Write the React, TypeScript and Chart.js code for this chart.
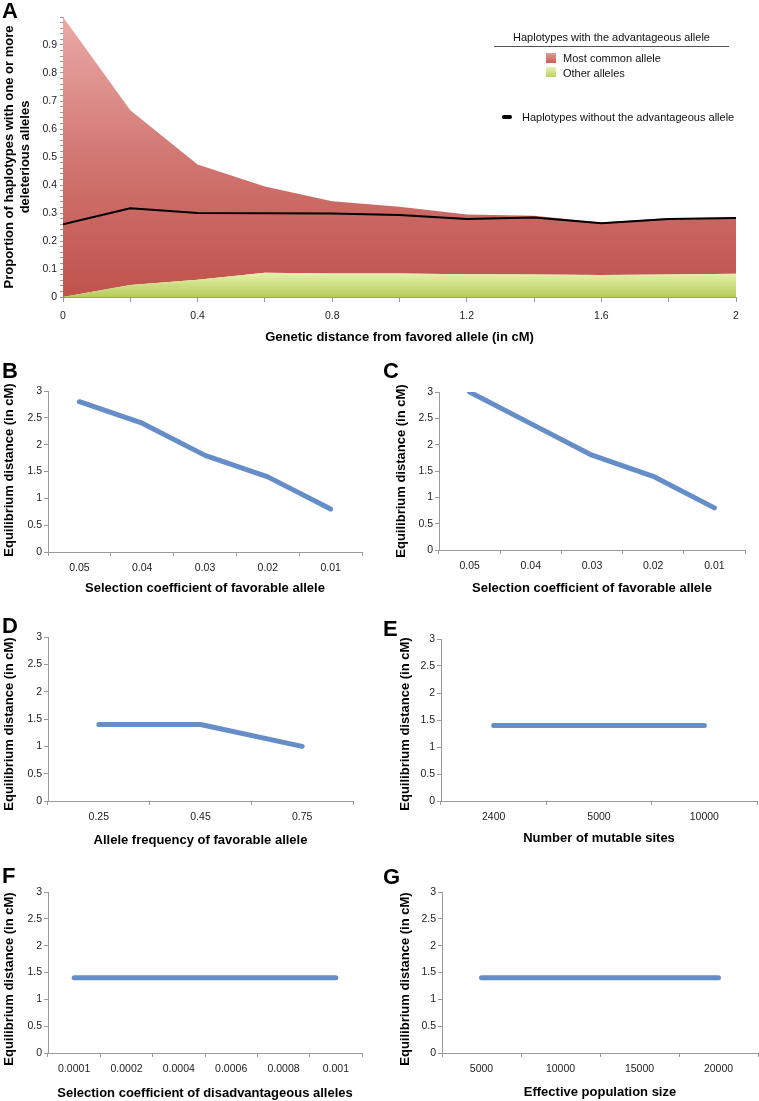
import React, { useEffect, useRef } from 'react';
import { Chart, registerables } from 'chart.js';

Chart.register(...registerables);

const FONT = '"Liberation Sans", Arial, Helvetica, sans-serif';
const AXIS = '#9a9a9a';
const TICK = '#222222';
const BLUE = '#658dc8';

// ---------- Panel A data ----------
const distances = [0, 0.2, 0.4, 0.6, 0.8, 1.0, 1.2, 1.4, 1.6, 1.8, 2.0];
const otherAlleles = [0, 0.043, 0.062, 0.087, 0.084, 0.084, 0.081, 0.08, 0.079, 0.08, 0.083];
const mostCommonAllele = [1.0, 0.624, 0.411, 0.308, 0.258, 0.238, 0.214, 0.21, 0.187, 0.202, 0.2];
const withoutAdvantageous = [0.26, 0.317, 0.3, 0.299, 0.298, 0.293, 0.279, 0.284, 0.263, 0.279, 0.282];

// ---------- Panels B-G data ----------
const selCoefLabels = ['0.05', '0.04', '0.03', '0.02', '0.01'];
const panelBValues = [2.8, 2.4, 1.8, 1.4, 0.8];
const panelCValues = [3.0, 2.4, 1.8, 1.4, 0.8];
const freqLabels = ['0.25', '0.45', '0.75'];
const panelDValues = [1.4, 1.4, 1.0];
const sitesLabels = ['2400', '5000', '10000'];
const panelEValues = [1.4, 1.4, 1.4];
const disadvLabels = ['0.0001', '0.0002', '0.0004', '0.0006', '0.0008', '0.001'];
const panelFValues = [1.4, 1.4, 1.4, 1.4, 1.4, 1.4];
const popLabels = ['5000', '10000', '15000', '20000'];
const panelGValues = [1.4, 1.4, 1.4, 1.4];

const Y_TITLE = 'Equilibrium distance (in cM)';

function toPoints(xs: number[], ys: number[]) {
  return xs.map((x, i) => ({ x, y: ys[i] }));
}

function redGradient(ctx: any) {
  const chart = ctx.chart;
  const area = chart.chartArea;
  if (!area) return '#c9625d';
  const g = chart.ctx.createLinearGradient(0, area.top, 0, area.bottom);
  g.addColorStop(0, '#eaaaa7');
  g.addColorStop(0.55, '#cf726d');
  g.addColorStop(1, '#c0524d');
  return g;
}

function greenGradient(ctx: any) {
  const chart = ctx.chart;
  const area = chart.chartArea;
  const y = chart.scales && chart.scales.y;
  if (!area || !y) return '#d3e48a';
  const g = chart.ctx.createLinearGradient(0, y.getPixelForValue(0.09), 0, y.getPixelForValue(0));
  g.addColorStop(0, '#e8f3ae');
  g.addColorStop(1, '#b6cb5c');
  return g;
}

function configA(): any {
  return {
    type: 'line',
    data: {
      datasets: [
        {
          label: 'Other alleles',
          data: toPoints(distances, otherAlleles),
          stack: 'with',
          order: 1,
          fill: 'origin',
          backgroundColor: greenGradient,
          borderWidth: 0,
          borderColor: 'rgba(0,0,0,0)',
          pointRadius: 0,
          tension: 0,
        },
        {
          label: 'Most common allele',
          data: toPoints(distances, mostCommonAllele),
          stack: 'with',
          order: 1,
          fill: '-1',
          backgroundColor: redGradient,
          borderWidth: 0,
          borderColor: 'rgba(0,0,0,0)',
          pointRadius: 0,
          tension: 0,
        },
        {
          label: 'Haplotypes without the advantageous allele',
          data: toPoints(distances, withoutAdvantageous),
          stack: 'without',
          order: 0,
          fill: false,
          borderColor: '#000000',
          borderWidth: 2,
          pointRadius: 0,
          tension: 0,
        },
      ],
    },
    options: {
      responsive: false,
      animation: false,
      devicePixelRatio: 1,
      layout: { padding: { left: 0, top: 17, right: 23, bottom: 0 } },
      plugins: { legend: { display: false }, tooltip: { enabled: false } },
      scales: {
        x: {
          type: 'linear',
          min: 0,
          max: 2,
          ticks: {
            stepSize: 0.2,
            autoSkip: false,
            maxRotation: 0,
            padding: 8,
            color: TICK,
            font: { family: FONT, size: 10.5 },
            callback: (v: number) => {
              const r = v / 0.4;
              return Math.abs(r - Math.round(r)) < 1e-6 ? String(Math.round(v * 10) / 10) : '';
            },
          },
          grid: { drawOnChartArea: false, drawTicks: true, tickLength: 5, color: AXIS },
          border: { color: AXIS, width: 1 },
          title: {
            display: true,
            text: 'Genetic distance from favored allele (in cM)',
            color: '#000',
            font: { family: FONT, size: 13, weight: 'bold' },
            padding: { top: 0, bottom: 0 },
          },
          afterFit: (s: any) => {
            s.height = 48;
          },
        },
        y: {
          type: 'linear',
          stacked: true,
          min: 0,
          max: 1,
          ticks: {
            stepSize: 0.02,
            autoSkip: false,
            padding: 3,
            color: TICK,
            font: { family: FONT, size: 10.5 },
            callback: (v: number) => {
              const r = Math.round(v * 10);
              return Math.abs(v * 10 - r) < 1e-6 && r < 10 ? String(r / 10) : '';
            },
          },
          grid: { drawOnChartArea: false, drawTicks: true, tickLength: 3, color: AXIS },
          border: { color: AXIS, width: 1 },
          title: {
            display: true,
            text: ['Proportion of haplotypes with one or more', 'deleterious alleles'],
            color: '#000',
            font: { family: FONT, size: 13, weight: 'bold' },
            padding: { top: 2, bottom: 0 },
          },
          afterFit: (s: any) => {
            s.width = 63;
          },
        },
      },
    },
  };
}

type LineSpec = {
  labels: string[];
  values: number[];
  xTitle: string;
  padTop: number;
  padRight: number;
  xHeight: number;
  yWidth: number;
  xTitlePad: number;
};

function lineConfig(p: LineSpec): any {
  return {
    type: 'line',
    data: {
      labels: p.labels,
      datasets: [
        {
          data: p.values,
          borderColor: BLUE,
          borderWidth: 5,
          pointRadius: 0,
          tension: 0,
          fill: false,
          borderCapStyle: 'round',
          borderJoinStyle: 'round',
        },
      ],
    },
    options: {
      responsive: false,
      animation: false,
      devicePixelRatio: 1,
      layout: { padding: { left: 0, top: p.padTop, right: p.padRight, bottom: 0 } },
      plugins: { legend: { display: false }, tooltip: { enabled: false } },
      scales: {
        x: {
          type: 'category',
          offset: true,
          ticks: {
            autoSkip: false,
            maxRotation: 0,
            padding: 6,
            color: TICK,
            font: { family: FONT, size: 10.5 },
          },
          grid: { offset: true, drawOnChartArea: false, drawTicks: true, tickLength: 4, color: AXIS },
          border: { color: AXIS, width: 1 },
          title: {
            display: true,
            text: p.xTitle,
            color: '#000',
            font: { family: FONT, size: 13, weight: 'bold' },
            padding: { top: 0, bottom: p.xTitlePad },
          },
          afterFit: (s: any) => {
            s.height = p.xHeight;
          },
        },
        y: {
          min: 0,
          max: 3,
          ticks: {
            stepSize: 0.5,
            padding: 2,
            color: TICK,
            font: { family: FONT, size: 10.5 },
            callback: (v: number) => String(v),
          },
          grid: { drawOnChartArea: false, drawTicks: true, tickLength: 4, color: AXIS },
          border: { color: AXIS, width: 1 },
          title: { display: false },
          afterFit: (s: any) => {
            s.width = p.yWidth;
          },
        },
      },
    },
  };
}

function ChartCanvas(props: { left: number; top: number; width: number; height: number; config: any }) {
  const ref = useRef<HTMLCanvasElement | null>(null);
  useEffect(() => {
    if (!ref.current) return;
    const chart = new Chart(ref.current, props.config);
    return () => chart.destroy();
  }, []);
  return (
    <canvas
      ref={ref}
      width={props.width}
      height={props.height}
      style={{ position: 'absolute', left: props.left, top: props.top, width: props.width, height: props.height }}
    />
  );
}

function Letter(props: { text: string; left: number; top: number }) {
  return (
    <div
      style={{
        position: 'absolute',
        left: props.left,
        top: props.top,
        fontFamily: FONT,
        fontWeight: 'bold',
        fontSize: 22,
        lineHeight: '22px',
        color: '#000',
      }}
    >
      {props.text}
    </div>
  );
}

function YTitle(props: { cx: number; cy: number }) {
  return (
    <div
      style={{
        position: 'absolute',
        left: props.cx,
        top: props.cy,
        transform: 'translate(-50%, -50%) rotate(-90deg)',
        fontFamily: FONT,
        fontWeight: 'bold',
        fontSize: 13,
        lineHeight: '15px',
        color: '#000',
        whiteSpace: 'nowrap',
      }}
    >
      {Y_TITLE}
    </div>
  );
}

const legendText: React.CSSProperties = {
  position: 'absolute',
  fontFamily: FONT,
  fontSize: 11,
  lineHeight: '12px',
  color: '#111',
  whiteSpace: 'nowrap',
};

export default function App() {
  const selTitle = 'Selection coefficient of favorable allele';
  return (
    <div
      style={{
        position: 'absolute',
        left: 0,
        top: 0,
        width: 759,
        height: 1101,
        background: '#ffffff',
        overflow: 'hidden',
        fontFamily: FONT,
      }}
    >
      <ChartCanvas left={0} top={0} width={759} height={345} config={configA()} />
      <ChartCanvas
        left={0}
        top={355}
        width={380}
        height={245}
        config={lineConfig({
          labels: selCoefLabels,
          values: panelBValues,
          xTitle: selTitle,
          padTop: 36,
          padRight: 18,
          xHeight: 48,
          yWidth: 48,
          xTitlePad: 4,
        })}
      />
      <ChartCanvas
        left={380}
        top={355}
        width={379}
        height={245}
        config={lineConfig({
          labels: selCoefLabels,
          values: panelCValues,
          xTitle: selTitle,
          padTop: 37,
          padRight: 14,
          xHeight: 50,
          yWidth: 59,
          xTitlePad: 4,
        })}
      />
      <ChartCanvas
        left={0}
        top={610}
        width={380}
        height={245}
        config={lineConfig({
          labels: freqLabels,
          values: panelDValues,
          xTitle: 'Allele frequency of favorable allele',
          padTop: 27,
          padRight: 27,
          xHeight: 54,
          yWidth: 48,
          xTitlePad: 7,
        })}
      />
      <ChartCanvas
        left={380}
        top={610}
        width={379}
        height={245}
        config={lineConfig({
          labels: sitesLabels,
          values: panelEValues,
          xTitle: 'Number of mutable sites',
          padTop: 29,
          padRight: 2,
          xHeight: 54,
          yWidth: 61,
          xTitlePad: 9,
        })}
      />
      <ChartCanvas
        left={0}
        top={860}
        width={380}
        height={241}
        config={lineConfig({
          labels: disadvLabels,
          values: panelFValues,
          xTitle: 'Selection coefficient of disadvantageous alleles',
          padTop: 32,
          padRight: 18,
          xHeight: 48,
          yWidth: 48,
          xTitlePad: 0,
        })}
      />
      <ChartCanvas
        left={380}
        top={860}
        width={379}
        height={241}
        config={lineConfig({
          labels: popLabels,
          values: panelGValues,
          xTitle: 'Effective population size',
          padTop: 32,
          padRight: 1,
          xHeight: 48,
          yWidth: 62,
          xTitlePad: 1,
        })}
      />

      <YTitle cx={8} cy={470} />
      <YTitle cx={400} cy={471} />
      <YTitle cx={8} cy={724} />
      <YTitle cx={404} cy={724} />
      <YTitle cx={8} cy={979} />
      <YTitle cx={404} cy={979} />

      {/* Panel A legend */}
      <div style={{ ...legendText, left: 494, width: 235, top: 31, textAlign: 'center' }}>
        Haplotypes with the advantageous allele
      </div>
      <div style={{ position: 'absolute', left: 494, top: 46, width: 235, height: 1, background: '#555' }} />
      <div
        style={{
          position: 'absolute',
          left: 546,
          top: 53,
          width: 10,
          height: 10,
          background: 'linear-gradient(#e39c99, #c75d58)',
        }}
      />
      <div style={{ ...legendText, left: 563, top: 52 }}>Most common allele</div>
      <div
        style={{
          position: 'absolute',
          left: 546,
          top: 67,
          width: 10,
          height: 10,
          background: 'linear-gradient(#e8f3ae, #bcd065)',
        }}
      />
      <div style={{ ...legendText, left: 563, top: 67 }}>Other alleles</div>
      <div
        style={{
          position: 'absolute',
          left: 502,
          top: 115,
          width: 10,
          height: 4,
          borderRadius: 2,
          background: '#000',
        }}
      />
      <div style={{ ...legendText, left: 522, top: 111 }}>Haplotypes without the advantageous allele</div>

      <Letter text="A" left={2} top={0} />
      <Letter text="B" left={2} top={360} />
      <Letter text="C" left={383} top={360} />
      <Letter text="D" left={2} top={615} />
      <Letter text="E" left={383} top={618} />
      <Letter text="F" left={2} top={865} />
      <Letter text="G" left={383} top={866} />
    </div>
  );
}
